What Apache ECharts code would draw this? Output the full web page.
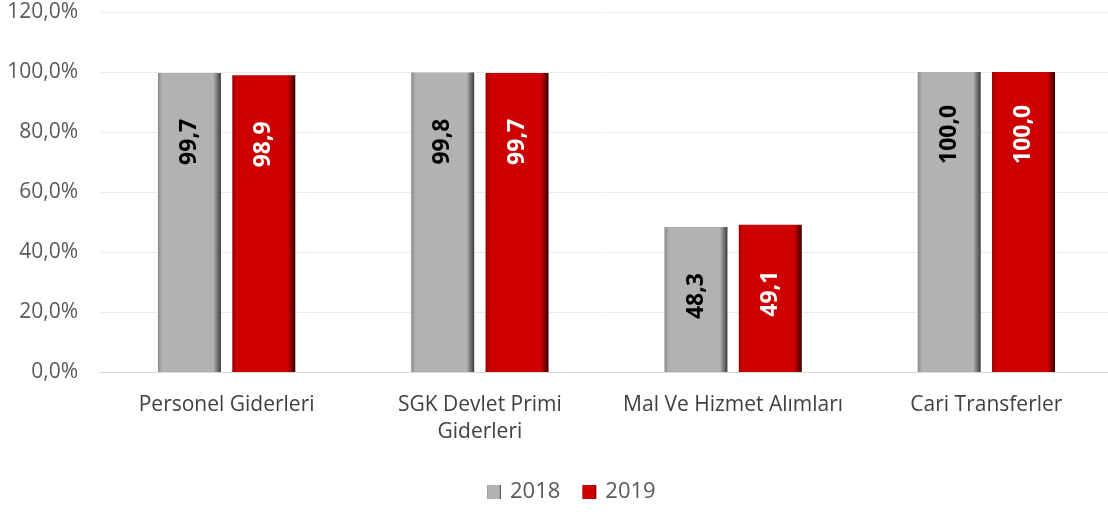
<!DOCTYPE html>
<html>
<head>
<meta charset="utf-8">
<script src="https://cdn.jsdelivr.net/npm/echarts@6/dist/echarts.min.js"></script>
<style>
    html, body { margin: 0; padding: 0; background: #fff; }
    #chart { width: 1108px; height: 512px; }
</style>
</head>
<body>
<div id="chart"></div>
<script>
    var categories = ['Personel Giderleri', 'SGK Devlet Primi\nGiderleri', 'Mal Ve Hizmet Alımları', 'Cari Transferler'];
    var values2018 = [99.7, 99.8, 48.3, 100.0];
    var values2019 = [98.9, 99.7, 49.1, 100.0];
    var yTicks = { min: 0, max: 120, interval: 20 };

    function comma(v, digits) {
        return v.toFixed(digits).replace('.', ',');
    }

    function bevel(edgeLeft, mid, edgeRight) {
        return new echarts.graphic.LinearGradient(0, 0, 1, 0, [
            { offset: 0, color: edgeLeft },
            { offset: 0.07, color: mid },
            { offset: 0.88, color: mid },
            { offset: 1, color: edgeRight }
        ]);
    }

    var chart = echarts.init(document.getElementById('chart'));

    // rotated labels read bottom to top, ending ~90px under the bar top
    var labelBase = {
        show: true,
        position: 'insideTop',
        rotate: 90,
        align: 'left',
        verticalAlign: 'middle',
        distance: 92,
        fontSize: 23,
        fontWeight: 'bold',
        fontFamily: 'Open Sans',
        formatter: function(p) { return comma(p.value, 1); }
    };

    chart.setOption({
        animation: false,
        textStyle: { fontFamily: 'Open Sans' },
        grid: { left: 100, right: -5, top: 12, bottom: 140, outerBoundsMode: 'none' },
        legend: {
            bottom: 4,
            left: 482,
            itemWidth: 14,
            itemHeight: 14,
            itemGap: 22,
            icon: 'rect',
            textStyle: { fontSize: 22, color: '#595959', padding: [0, 0, 0, 4] },
            data: ['2018', '2019']
        },
        xAxis: {
            type: 'category',
            data: categories,
            axisTick: { show: false },
            axisLine: { lineStyle: { color: '#d9d9d9' } },
            axisLabel: { fontSize: 21, color: '#404040', lineHeight: 27, margin: 20, interval: 0 }
        },
        yAxis: {
            type: 'value',
            min: yTicks.min,
            max: yTicks.max,
            interval: yTicks.interval,
            axisLine: { show: false },
            axisTick: { show: false },
            splitLine: { lineStyle: { color: '#ebebeb' } },
            axisLabel: {
                fontSize: 21,
                color: '#595959',
                margin: 22,
                formatter: function(v) { return comma(v, 1) + '%'; }
            }
        },
        series: [{
            name: '2018',
            type: 'bar',
            data: values2018,
            barWidth: 63,
            barGap: '18%',
            itemStyle: { color: bevel('#8a8a8a', '#b2b2b2', '#3c3c3c') },
            label: Object.assign({}, labelBase, { color: '#000' })
        }, {
            name: '2019',
            type: 'bar',
            data: values2019,
            barWidth: 63,
            itemStyle: { color: bevel('#9a0000', '#cc0000', '#3a0000') },
            label: Object.assign({}, labelBase, { color: '#fff' })
        }]
    });
</script>
</body>
</html>
